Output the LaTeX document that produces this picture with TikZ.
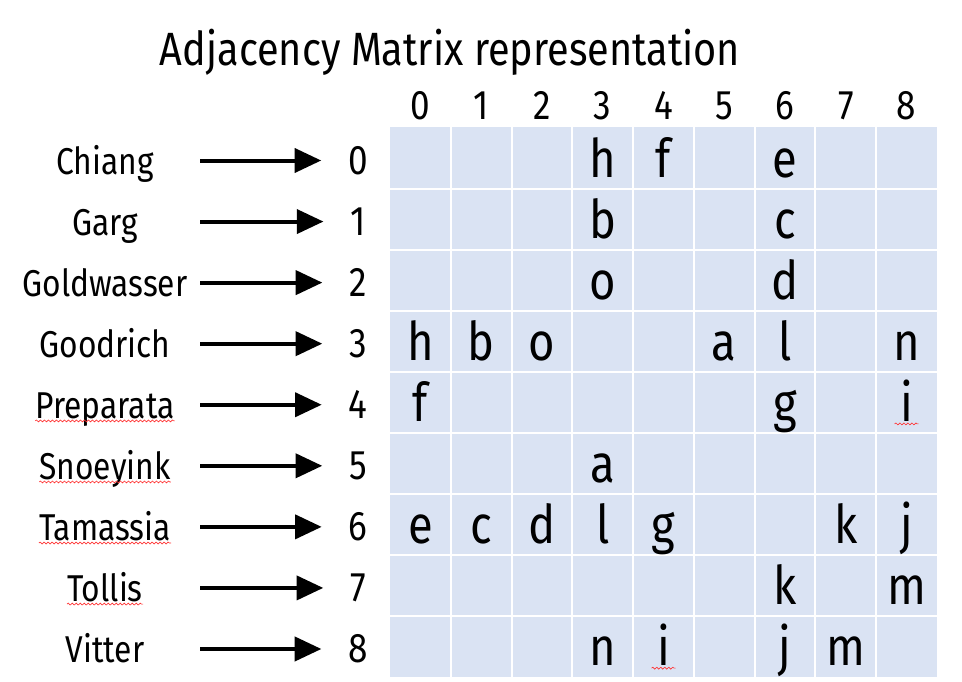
\documentclass[tikz,border=0pt]{standalone}
\usepackage{fontspec}
\setmainfont[FakeStretch=0.85]{Fira Sans}
\usetikzlibrary{arrows.meta,decorations.pathmorphing}
\definecolor{cellblue}{RGB}{218,227,243}
\tikzset{
  label/.style={font=\fontsize{28}{30}\selectfont, inner sep=0pt, anchor=base},
  idx/.style={font=\fontsize{31}{33}\selectfont, inner xsep=20pt, inner ysep=0pt, anchor=base},
  colhead/.style={font=\fontsize{31}{33}\selectfont, inner sep=0pt, anchor=base},
  entry/.style={font=\fontsize{40}{42}\selectfont, inner sep=0pt, anchor=base},
  link/.style={line width=3pt, -{Triangle[length=20pt,width=18pt]}},
  squiggle/.style={red!80, line width=0.5pt, decorate,
    decoration={snake, amplitude=0.7pt, segment length=3pt}}
}

\begin{document}
\begin{tikzpicture}[x=0.75pt,y=-0.75pt]
      \useasboundingbox (0,0) rectangle (962,681);
      \node[font=\fontsize{35}{37}\selectfont, inner sep=0pt, anchor=base] (title) at (450,66) {Adjacency Matrix representation};
      \fill[cellblue] (390,127.5) rectangle (937,677);
      \foreach \i in {1,...,8}{
        \draw[white, line width=1.5pt] ({390+\i*60.78},127.5) -- ({390+\i*60.78},677);
        \draw[white, line width=1.5pt] (390,{127.5+\i*61.06}) -- (937,{127.5+\i*61.06});
      }
      \foreach \c in {0,...,8}{
        \node[colhead] (col\c) at ({420.4+\c*60.78},120) {\c};
      }
      \foreach \name [count=\r from 0] in {Chiang, Garg, Goldwasser, Goodrich, Preparata, Snoeyink, Tamassia, Tollis, Vitter}{
        \node[label] (name\r) at (105,{174+\r*61.06}) {\name};
        \node[idx] (idx\r) at (358,{174.5+\r*61.06}) {\r};
        \coordinate (tail\r) at (200,{160.5+\r*61.06});
        \draw[link] (tail\r) -- (tail\r -| idx\r.west);
      }
      \foreach \r/\c/\t in {0/3/h, 0/4/f, 0/6/e, 1/3/b, 1/6/c, 2/3/o, 2/6/d,
                            3/0/h, 3/1/b, 3/2/o, 3/5/a, 3/6/l, 3/8/n,
                            4/0/f, 4/6/g, 4/8/i, 5/3/a,
                            6/0/e, 6/1/c, 6/2/d, 6/3/l, 6/4/g, 6/7/k, 6/8/j,
                            7/6/k, 7/8/m, 8/3/n, 8/4/i, 8/6/j, 8/7/m}{
        \node[entry] (m\r\c) at ({420.4+\c*60.78},{177+\r*61.06}) {\t};
      }
      \foreach \n in {name4, name5, name6, name7}{
        \draw[squiggle] ([yshift=-2pt]\n.base west) -- ([yshift=-2pt]\n.base east);
      }
      \foreach \n in {m48, m84}{
        \draw[squiggle] ([xshift=-4pt,yshift=-2pt]\n.base west) -- ([xshift=4pt,yshift=-2pt]\n.base east);
      }
    \end{tikzpicture}
\end{document}
